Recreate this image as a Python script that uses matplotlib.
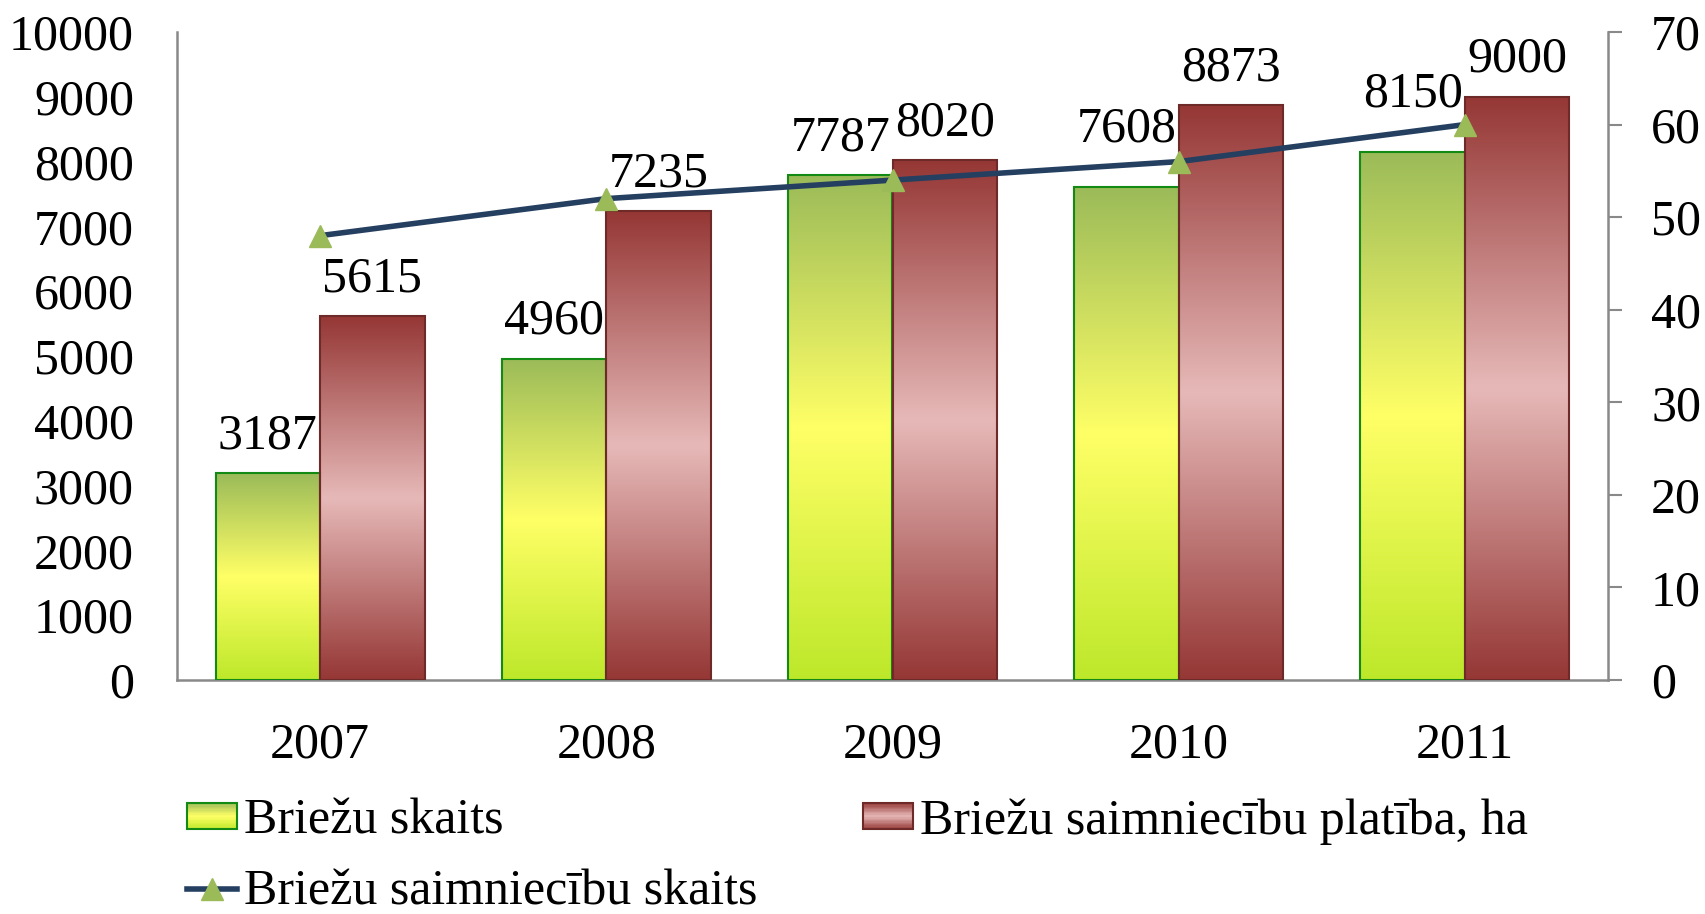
import numpy as np
import matplotlib
matplotlib.use('Agg')
from matplotlib import pyplot as plt
from matplotlib.colors import LinearSegmentedColormap
from matplotlib.patches import Rectangle
from matplotlib.lines import Line2D
from matplotlib.legend_handler import HandlerBase

years = ['2007', '2008', '2009', '2010', '2011']
briezu_skaits = [3187, 4960, 7787, 7608, 8150]
platiba_ha = [5615, 7235, 8020, 8873, 9000]
saimniecibu_skaits = [48, 52, 54, 56, 60]

lbl_skaits = 'Briežu skaits'
lbl_platiba = 'Briežu saimniecību platība, ha'
lbl_saimn = 'Briežu saimniecību skaits'

# label offsets (points) - green labels moved up where the line crosses
green_lbl_off = [10, 10, 10, 25, 25]
red_lbl_off = [10, 10, 10, 10, 10]

plt.rcParams['font.family'] = ['Liberation Serif', 'DejaVu Serif']
FS = 36

green_cmap = LinearSegmentedColormap.from_list('g', [(0, '#bde82a'), (0.5, '#ffff66'), (1, '#9bbb59')])
red_cmap = LinearSegmentedColormap.from_list('r', [(0, '#953735'), (0.5, '#e6b9b8'), (1, '#953735')])
grad = np.linspace(0, 1, 256).reshape(-1, 1)

fig = plt.figure(figsize=(17.05, 9.14), dpi=100)
ax = fig.add_axes([177/1705, 1-680/914, (1608-177)/1705, (680-32)/914])
ax2 = ax.twinx()

x = np.arange(len(years))
w = 0.365

def grad_bars(xs, vals, cmap, edge):
    for xi, v in zip(xs, vals):
        ax.imshow(grad, extent=[xi - w/2, xi + w/2, 0, v], origin='lower', aspect='auto', cmap=cmap, zorder=2)
        ax.add_patch(Rectangle((xi - w/2, 0), w, v, facecolor='none', edgecolor=edge, lw=1.5, zorder=3))

grad_bars(x - w/2, briezu_skaits, green_cmap, '#138a13')
grad_bars(x + w/2, platiba_ha, red_cmap, '#6e2a28')

for xi, v, off in zip(x - w/2, briezu_skaits, green_lbl_off):
    ax.annotate(str(v), (xi, v), xytext=(0, off), textcoords='offset points', ha='center', va='bottom', fontsize=FS, zorder=5)
for xi, v, off in zip(x + w/2, platiba_ha, red_lbl_off):
    ax.annotate(str(v), (xi, v), xytext=(0, off), textcoords='offset points', ha='center', va='bottom', fontsize=FS, zorder=5)

ax.set_xlim(-0.5, len(years) - 0.5)
ax.set_ylim(0, 10000)
ax.set_yticks(np.arange(0, 10001, 1000))
ax.set_xticks(x)
ax.set_xticklabels(years)
ax.tick_params(axis='y', length=0, pad=31, labelsize=FS)
ax.tick_params(axis='x', length=0, pad=30, labelsize=FS)

ax2.plot(x, saimniecibu_skaits, color='#243f60', lw=4, marker='^', markersize=16,
         markerfacecolor='#9bbb59', markeredgecolor='#9bbb59', zorder=4)
ax2.set_ylim(0, 70)
ax2.set_yticks(np.arange(0, 71, 10))
ax2.tick_params(axis='y', length=10, width=1.5, color='#898989', pad=21, labelsize=FS)

for a in (ax, ax2):
    a.spines['top'].set_visible(False)
    for s in ('left', 'right', 'bottom'):
        a.spines[s].set_color('#898989')
        a.spines[s].set_linewidth(1.8)
ax.spines['right'].set_visible(False)
ax2.spines['left'].set_visible(False)
ax2.spines['bottom'].set_visible(False)


class GradHandler(HandlerBase):
    def __init__(self, cmap, edge):
        super().__init__()
        self.cmap = cmap
        self.edge = edge

    def create_artists(self, legend, orig_handle, xdescent, ydescent, width, height, fontsize, trans):
        arts = []
        n = 20
        for i in range(n):
            r = Rectangle((-xdescent, -ydescent + height*i/n), width, height/n + 0.3,
                          facecolor=self.cmap((i + 0.5)/n), edgecolor='none', transform=trans)
            arts.append(r)
        arts.append(Rectangle((-xdescent, -ydescent), width, height, facecolor='none',
                              edgecolor=self.edge, lw=1.5, transform=trans))
        return arts


h_sk = Rectangle((0, 0), 1, 1)
h_pl = Rectangle((0, 0), 1, 1)
h_line = Line2D([], [], color='#243f60', lw=4, marker='^', markersize=16,
                markerfacecolor='#9bbb59', markeredgecolor='#9bbb59')

fig.legend([h_sk, h_line, h_pl], [lbl_skaits, lbl_saimn, lbl_platiba], ncol=2,
           loc='lower left', bbox_to_anchor=(187/1705, -0.002), frameon=False, fontsize=FS,
           handlelength=1.0, handleheight=0.45, handletextpad=0.15, columnspacing=2.1,
           labelspacing=0.49, borderpad=0.0, borderaxespad=0,
           handler_map={h_sk: GradHandler(green_cmap, '#138a13'),
                        h_pl: GradHandler(red_cmap, '#6e2a28')})

fig.savefig('out.png', dpi=100)
